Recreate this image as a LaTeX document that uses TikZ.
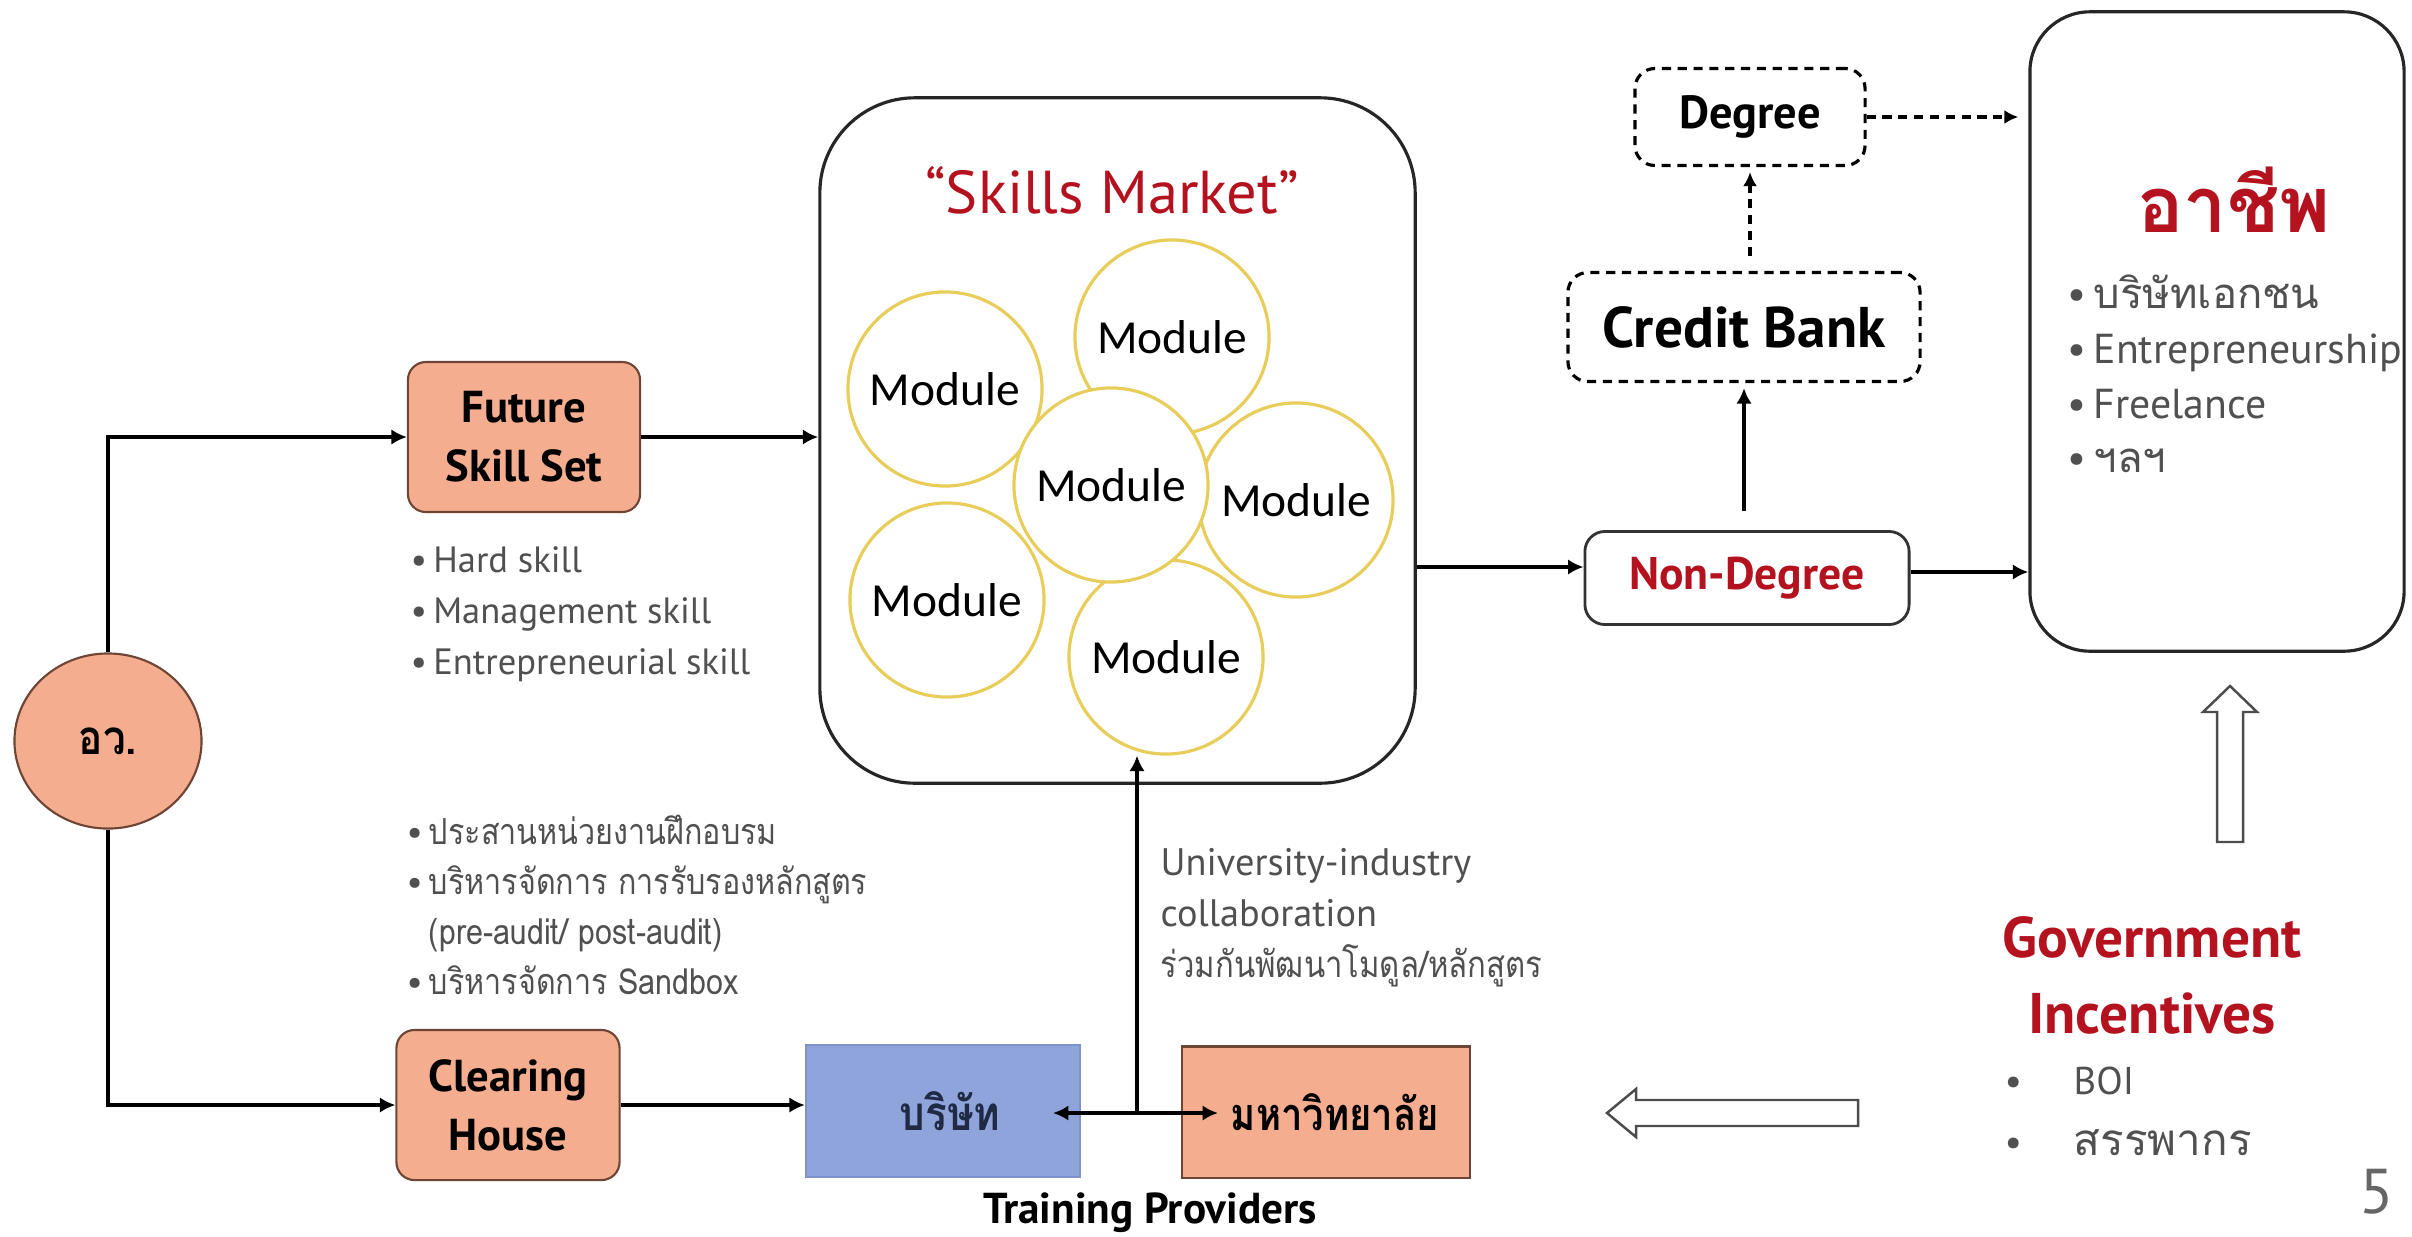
\documentclass[tikz,border=0pt]{standalone}
\usepackage{fontspec}
\setmainfont{PT Sans}
\newfontfamily\thai[Script=Thai]{Loma}
\newfontfamily\thaic[Script=Thai,FakeStretch=0.85]{Loma}
\newfontfamily\calib{Carlito}
\usetikzlibrary{arrows.meta,shapes.geometric,calc}
\definecolor{salmon}{HTML}{F4AD8E}
\definecolor{salmonedge}{HTML}{6E4434}
\definecolor{bluebox}{HTML}{8FA4DA}
\definecolor{blueedge}{HTML}{7F93C9}
\definecolor{navytxt}{HTML}{1F2A44}
\definecolor{darkred}{HTML}{B4121E}
\definecolor{txtgray}{HTML}{505050}
\definecolor{gold}{HTML}{E8CD5A}
\newcommand\fsz[2]{\fontsize{#1}{#2}\selectfont}
\tikzset{
  conn/.style={line width=1.4pt,-{Latex[length=4.4pt,width=4.4pt]}},
  dconn/.style={line width=0.9pt,dash pattern=on 2.6pt off 1.9pt,-{Latex[length=4pt,width=4pt]}},
  salbox/.style={draw=salmonedge,line width=0.6pt,fill=salmon,rounded corners=0.18cm,align=center,inner sep=0},
  dashbox/.style={draw,line width=0.9pt,dash pattern=on 2.6pt off 1.9pt,rounded corners=0.2cm,inner sep=0},
  modc/.style={circle,draw=gold,line width=0.9pt,fill=white,minimum size=1.94cm,inner sep=0,font=\calib\fsz{13.5}{15}},
  graytxt/.style={text=txtgray,align=left,inner sep=0},
  hollow/.style={draw=black!70,line width=0.7pt,fill=white},
}
\begin{document}
\begin{tikzpicture}[x=0.01cm,y=-0.01cm]
\fill[white] (0,0) rectangle (2412,1236);
\useasboundingbox (0,0) rectangle (2412,1236);

% ---- Skills market
\node[draw=black!85,line width=0.9pt,rounded corners=0.95cm,minimum width=5.95cm,minimum height=6.85cm,inner sep=0] (sm) at (1117.5,440.5) {};
\node[text=darkred,font=\fsz{17.2}{20}] (smt) at (1112,190) {“Skills Market”};
\node[modc] (mTL) at (945,389) {Module};
\node[modc] (mTR) at (1172,337) {Module};
\node[modc] (mR) at (1296,500) {Module};
\node[modc] (mBL) at (947,600) {Module};
\node[modc] (mB) at (1166,657) {Module};
\node[modc] (mC) at (1111,485) {Module};

% ---- left side
\node[ellipse,draw=salmonedge,line width=0.6pt,fill=salmon,minimum width=1.87cm,minimum height=1.75cm,inner sep=0,font=\thaic\bfseries\fsz{13.5}{16}] (aw) at (108,741) {อว.};
\node[salbox,minimum width=2.32cm,minimum height=1.50cm,font=\bfseries\fsz{12.7}{16.8}] (fss) at (524,437) {Future\\Skill Set};
\node[salbox,minimum width=2.23cm,minimum height=1.50cm,font=\bfseries\fsz{12.7}{16.8}] (ch) at (508,1105) {Clearing\\House};

\node[graytxt,anchor=west,font=\fsz{10.4}{14.5}] (fsl) at (410,614) {\textbullet\,Hard skill\\\textbullet\,Management skill\\\textbullet\,Entrepreneurial skill};
\node[graytxt,anchor=west,font=\thaic\fsz{10.2}{14.2}] (chl) at (406,905) {{\rmfamily\textbullet}\,ประสานหน่วยงานฝึกอบรม\\{\rmfamily\textbullet}\,บริหารจัดการ การรับรองหลักสูตร\\\hphantom{{\rmfamily\textbullet}\,}(pre-audit/ post-audit)\\{\rmfamily\textbullet}\,บริหารจัดการ Sandbox};

\draw[conn] (aw.north) |- (fss.west);
\draw[conn] (aw.south) |- (ch.west);
\draw[conn] (fss.east) -- (fss.east -| sm.west);

% ---- training providers
\node[draw=blueedge,line width=0.6pt,fill=bluebox,minimum width=2.74cm,minimum height=1.32cm,inner sep=0,font=\thaic\bfseries\fsz{13.5}{16},text=navytxt] (bc) at (943,1111) {\hspace{0.14cm}บริษัท};
\node[draw=salmonedge,line width=0.6pt,fill=salmon,minimum width=2.88cm,minimum height=1.31cm,inner sep=0,font=\thaic\bfseries\fsz{12.8}{16}] (uni) at (1326,1112) {\hspace{0.18cm}มหาวิทยาลัย};
\node[font=\bfseries\fsz{12.3}{14}] (tp) at (1150,1213) {Training Providers};
\node[graytxt,anchor=west,font=\fsz{10.9}{14.5}] (col) at (1160,918) {University-industry\\collaboration\\{\thaic\fsz{10.4}{14.5}ร่วมกันพัฒนาโมดูล/หลักสูตร}};

\draw[conn] (ch.east) -- (ch.east -| bc.west);
\coordinate (jn) at (1137,1113);
\coordinate (btip) at (1053,1113);
\coordinate (utip) at (1218,1113);
\draw[conn] (jn) -- (btip);
\draw[conn] (jn) -- (utip);
\draw[conn] (jn) -- (jn |- mB.south);

% ---- right side
\node[draw=black!80,line width=0.8pt,rounded corners=0.2cm,minimum width=3.24cm,minimum height=0.93cm,inner sep=0,text=darkred,font=\bfseries\fsz{13}{16}] (nd) at (1747,578) {Non-Degree};
\node[dashbox,minimum width=3.52cm,minimum height=1.09cm,font=\bfseries\fsz{16.3}{19}] (cb) at (1744,327) {Credit Bank};
\node[dashbox,minimum width=2.30cm,minimum height=0.97cm,font=\bfseries\fsz{13.2}{16}] (dg) at (1750,117) {Degree};
\node[draw=black!85,line width=0.9pt,rounded corners=0.6cm,minimum width=3.74cm,minimum height=6.39cm,inner sep=0] (car) at (2217,331.5) {};
\node[text=darkred,font=\thai\bfseries\fsz{22}{24}] (cart) at (2234,200) {อาชีพ};
\node[graytxt,anchor=west,font=\fsz{11.9}{15.6}] (carl) at (2067,374) {\textbullet\,{\thai บริษัทเอกชน}\\\textbullet\,Entrepreneurship\\\textbullet\,Freelance\\\textbullet\,{\thai ฯลฯ}};

\coordinate (ndin) at ($(nd.west)+(0,-11)$);
\coordinate (ndout) at ($(nd.east)+(0,-6)$);
\draw[conn] (ndin -| sm.east) -- (ndin);
\draw[conn] (ndout) -- (ndout -| car.west);
\draw[conn,shorten <=0.19cm,shorten >=0.05cm] (nd.north -| cb.south) -- (cb.south);
\draw[dconn,shorten <=0.15cm,shorten >=0.05cm] (cb.north -| dg.south) -- (dg.south);
\draw[dconn,shorten >=0.1cm] (dg.east) -- (dg.east -| car.west);

% ---- government incentives
\node[text=darkred,align=center,font=\bfseries\fsz{16.3}{21.6}] (gov) at (2152,975) {Government\\Incentives};
\node[graytxt,anchor=west,font=\fsz{11}{17.4}] (govl) at (2004,1111) {\makebox[0.69cm][l]{\textbullet}BOI\\\makebox[0.69cm][l]{\textbullet}{\thai\fsz{12.5}{17.4}สรรพากร}};
\draw[hollow] (2217,842) -- (2217,712) -- (2203,712) -- (2230,686) -- (2257,712) -- (2243,712) -- (2243,842) -- cycle;
\draw[hollow] (1858,1100) -- (1636,1100) -- (1636,1089) -- (1607,1113) -- (1636,1137) -- (1636,1126) -- (1858,1126) -- cycle;

\node[text=black!60,font=\fsz{18}{20},anchor=east,inner sep=0] (pg) at (2395,1192) {5};
\end{tikzpicture}
\end{document}
